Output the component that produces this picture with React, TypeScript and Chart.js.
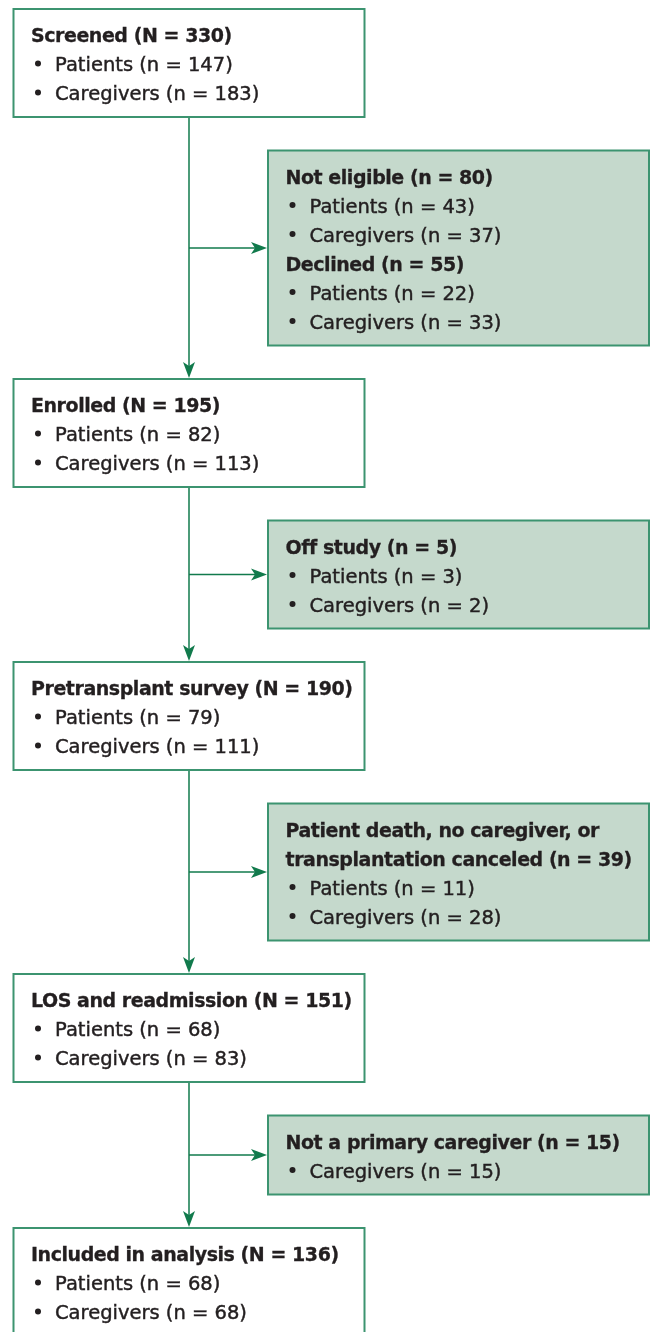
import { useEffect, useRef } from 'react';
import { Chart, registerables } from 'chart.js';

Chart.register(...registerables);

// ---- Data ----
const stageTitles = ['Screened', 'Enrolled', 'Pretransplant survey', 'LOS and readmission', 'Included in analysis'];
const stageTotals = [330, 195, 190, 151, 136];
const stagePatients = [147, 82, 79, 68, 68];
const stageCaregivers = [183, 113, 111, 83, 68];

const exclusionLabels = [
  'Not eligible',
  'Declined',
  'Off study',
  'Patient death, no caregiver, or\ntransplantation canceled',
  'Not a primary caregiver',
];
const exclusionTotals = [80, 55, 5, 39, 15];
const exclusionPatients: (number | null)[] = [43, 22, 3, 11, null];
const exclusionCaregivers = [37, 33, 2, 28, 15];
const exclusionAfterStage = [0, 0, 1, 2, 3];

// ---- Styles ----
const FONT = '"DejaVu Sans", "Liberation Sans", sans-serif';
const TEXT_COLOR = '#231f20';
const BORDER_COLOR = '#3c9470';
const ARROW_COLOR = '#117a4c';
const SIDE_FILL = '#c5d9cc';

type Line = { text: string; bold: boolean; bullet: boolean };

function stageLines(i: number): Line[] {
  return [
    { text: `${stageTitles[i]} (N = ${stageTotals[i]})`, bold: true, bullet: false },
    { text: `Patients (n = ${stagePatients[i]})`, bold: false, bullet: true },
    { text: `Caregivers (n = ${stageCaregivers[i]})`, bold: false, bullet: true },
  ];
}

function exclusionLines(stage: number): Line[] {
  const out: Line[] = [];
  exclusionLabels.forEach((label, k) => {
    if (exclusionAfterStage[k] !== stage) return;
    const parts = label.split('\n');
    parts.forEach((p, j) => {
      const t = j === parts.length - 1 ? `${p} (n = ${exclusionTotals[k]})` : p;
      out.push({ text: t, bold: true, bullet: false });
    });
    if (exclusionPatients[k] !== null) out.push({ text: `Patients (n = ${exclusionPatients[k]})`, bold: false, bullet: true });
    out.push({ text: `Caregivers (n = ${exclusionCaregivers[k]})`, bold: false, bullet: true });
  });
  return out;
}

const flowPlugin = {
  id: 'flowDiagram',
  afterDraw(chart: any) {
    const ctx: CanvasRenderingContext2D = chart.ctx;
    const xs = chart.scales.x;
    const ys = chart.scales.y;
    const px = (v: number) => xs.getPixelForValue(v);
    const py = (v: number) => ys.getPixelForValue(v);

    const mainL = 13.5, mainR = 364.5, sideL = 268, sideR = 649;
    const midX = (mainL + mainR) / 2;
    const gap = 33.5;
    const boxH = (n: number) => 21 + 29 * n;

    const drawBox = (l: number, r: number, top: number, lines: Line[], fill: string | null) => {
      const h = boxH(lines.length);
      const x0 = px(l), x1 = px(r), y0 = py(top), y1 = py(top + h);
      if (fill) {
        ctx.fillStyle = fill;
        ctx.fillRect(x0, y0, x1 - x0, y1 - y0);
      }
      ctx.strokeStyle = BORDER_COLOR;
      ctx.lineWidth = 2;
      ctx.strokeRect(x0, y0, x1 - x0, y1 - y0);
      lines.forEach((ln, i) => {
        const base = py(top + 33 + i * 29);
        ctx.fillStyle = TEXT_COLOR;
        ctx.strokeStyle = TEXT_COLOR;
        ctx.textBaseline = 'alphabetic';
        ctx.textAlign = 'left';
        if (ln.bold) {
          ctx.font = `bold 19px ${FONT}`;
          (ctx as any).letterSpacing = '-0.45px';
          ctx.fillText(ln.text, px(l + 17.5), base);
          ctx.lineWidth = 0.3;
          ctx.strokeText(ln.text, px(l + 17.5), base);
        } else {
          ctx.font = `19.5px ${FONT}`;
          (ctx as any).letterSpacing = '0px';
          ctx.beginPath();
          ctx.arc(px(l + 24.5), base - 7.5, 3, 0, Math.PI * 2);
          ctx.fill();
          ctx.fillText(ln.text, px(l + 41.5), base);
          ctx.lineWidth = 0.45;
          ctx.strokeText(ln.text, px(l + 41.5), base);
        }
      });
      (ctx as any).letterSpacing = '0px';
      return h;
    };

    const arrow = (x0: number, y0: number, x1: number, y1: number) => {
      const ax = px(x0), ay = py(y0), bx = px(x1), by = py(y1);
      const len = Math.hypot(bx - ax, by - ay);
      const dx = (bx - ax) / len, dy = (by - ay) / len;
      const nx = -dy, ny = dx;
      const L = 16, W = 6, notch = 4;
      ctx.strokeStyle = ARROW_COLOR;
      ctx.lineWidth = 1.5;
      ctx.beginPath();
      ctx.moveTo(ax, ay);
      ctx.lineTo(bx - dx * (L - notch), by - dy * (L - notch));
      ctx.stroke();
      ctx.fillStyle = ARROW_COLOR;
      ctx.beginPath();
      ctx.moveTo(bx, by);
      ctx.lineTo(bx - dx * L + nx * W, by - dy * L + ny * W);
      ctx.lineTo(bx - dx * (L - notch), by - dy * (L - notch));
      ctx.lineTo(bx - dx * L - nx * W, by - dy * L - ny * W);
      ctx.closePath();
      ctx.fill();
    };

    ctx.save();
    let y = 9;
    for (let i = 0; i < stageTitles.length; i++) {
      const h = drawBox(mainL, mainR, y, stageLines(i), '#ffffff');
      const bottom = y + h;
      if (i < stageTitles.length - 1) {
        const sideTop = bottom + gap;
        const sl = exclusionLines(i);
        const sh = boxH(sl.length);
        const nextTop = sideTop + sh + gap;
        arrow(midX, bottom + 1, midX, nextTop - 1);
        arrow(midX, sideTop + sh / 2, sideL - 1, sideTop + sh / 2);
        drawBox(sideL, sideR, sideTop, sl, SIDE_FILL);
        y = nextTop;
      }
    }
    ctx.restore();
  },
};

export default function App() {
  const ref = useRef<HTMLCanvasElement>(null);
  useEffect(() => {
    document.body.style.margin = '0';
    const canvas = ref.current!;
    const chart = new Chart(canvas, {
      type: 'scatter',
      data: { datasets: [{ data: [] }] },
      options: {
        animation: false,
        responsive: false,
        devicePixelRatio: 1,
        layout: { padding: 0 },
        scales: {
          x: { type: 'linear', min: 0, max: 653, display: false },
          y: { type: 'linear', min: 0, max: 1332, reverse: true, display: false },
        },
        plugins: { legend: { display: false }, tooltip: { enabled: false } },
      },
      plugins: [flowPlugin],
    });
    return () => chart.destroy();
  }, []);
  return <canvas ref={ref} width={653} height={1332} style={{ display: 'block' }} />;
}
